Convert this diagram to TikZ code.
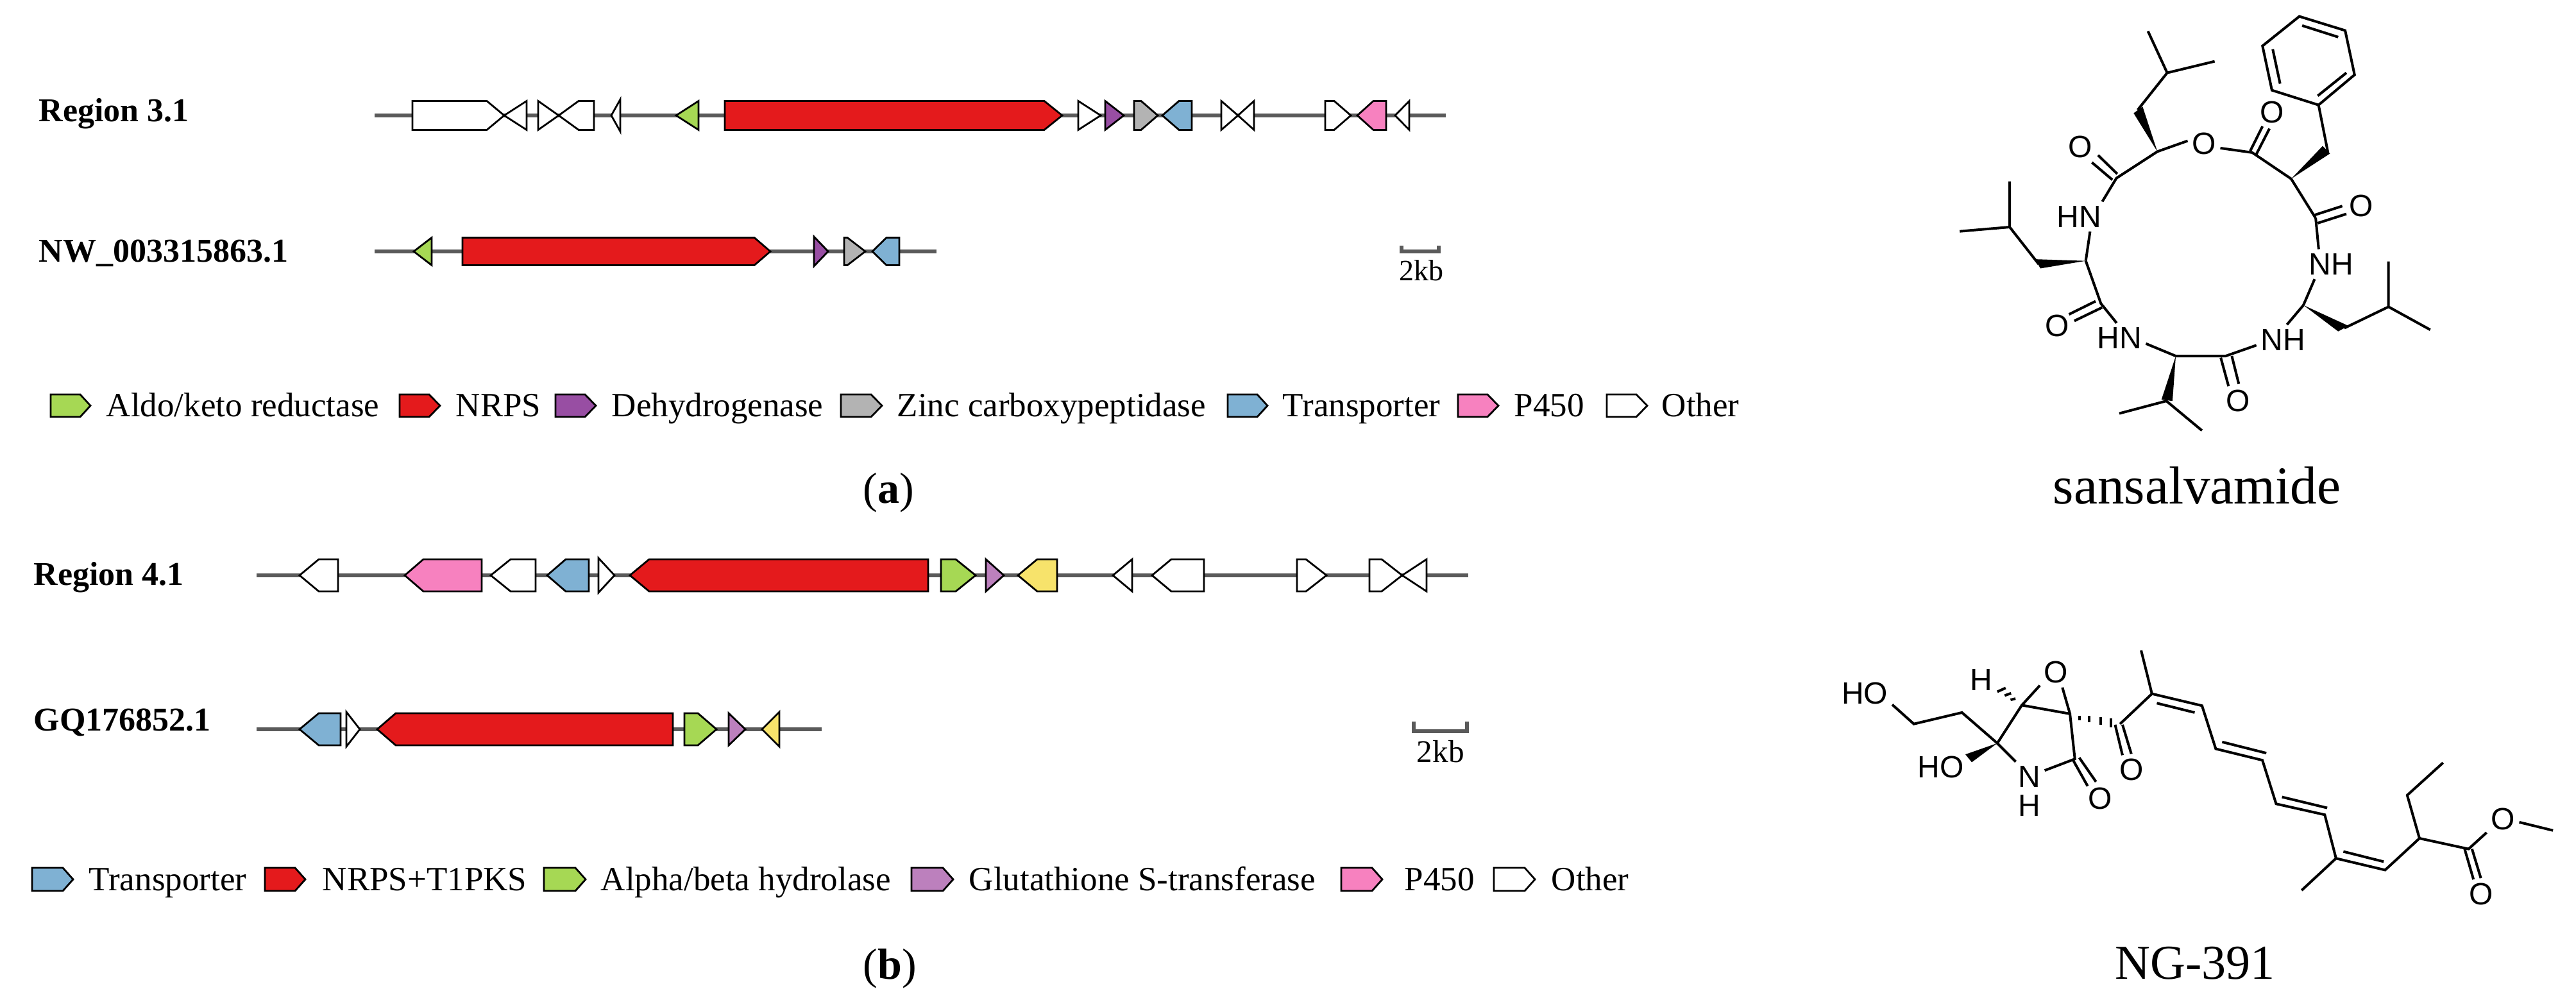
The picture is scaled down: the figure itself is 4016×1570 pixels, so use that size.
\documentclass[tikz,border=0pt]{standalone}
\usepackage{fontspec}
\setmainfont{Liberation Serif}
\newfontfamily\atomfont{Liberation Sans}
\definecolor{cgreen}{HTML}{A6D854}
\definecolor{cred}{HTML}{E41A1C}
\definecolor{cpurple}{HTML}{984EA3}
\definecolor{cgray}{HTML}{B3B3B3}
\definecolor{cblue}{HTML}{7FB1D3}
\definecolor{cpink}{HTML}{F781BF}
\definecolor{cyellow}{HTML}{F7E36B}
\definecolor{cmauve}{HTML}{BC80BD}
\definecolor{ctrack}{HTML}{5A5A5A}
\tikzset{
  genebox/.style={draw=black,line width=.7pt,line join=miter,fill=#1},
  track/.style={ctrack,line width=1.7pt},
  scalebar/.style={draw=ctrack,line width=1.5pt},
  rowlabel/.style={anchor=base west,inner sep=0,font=\bfseries\fontsize{13}{15}\selectfont},
  legendtext/.style={anchor=base west,inner sep=0,font=\fontsize{13.25}{15}\selectfont},
  captiontext/.style={anchor=base west,inner sep=0,font=\fontsize{#1}{24}\selectfont},
  bond/.style={line width=1pt,line cap=butt,line join=miter},
  atom/.style={inner sep=1.5pt,font=\atomfont\fontsize{12}{14}\selectfont,text=black},
  wedgebond/.style={fill=black,draw=none},
}
% \gene{colour}{base x}{shoulder x}{tip x}{centre y}{half height}
\newcommand{\gene}[6]{\draw[genebox=#1] (#2,#5-#6) -- (#3,#5-#6) -- (#4,#5) -- (#3,#5+#6) -- (#2,#5+#6) -- cycle;}
\begin{document}
\begin{tikzpicture}[x=0.25pt,y=-0.25pt]
\useasboundingbox (0,0) rectangle (4016,1570);
\fill[white] (0,0) rectangle (4016,1570);

% ---- row labels
\node[rowlabel] (r1) at (60,190) {Region 3.1};
\node[rowlabel] (r2) at (60,409) {NW\_003315863.1};
\node[rowlabel] (r3) at (52,913) {Region 4.1};
\node[rowlabel] (r4) at (52,1140) {GQ176852.1};

% ---- Region 3.1 track
\coordinate (t1a) at (584,180); \coordinate (t1b) at (2254,180);
\draw[track] (t1a) -- (t1b);
\def\hh{22.5}\def\yy{180}
\gene{white}{643}{759}{786}{\yy}{\hh}
\gene{white}{821}{821}{786}{\yy}{\hh}
\gene{white}{839}{839}{871}{\yy}{\hh}
\gene{white}{926}{902}{871}{\yy}{\hh}
\gene{white}{967}{967}{953}{\yy}{25}
\gene{cgreen}{1089}{1089}{1054}{\yy}{\hh}
\gene{cred}{1130}{1628}{1656}{\yy}{\hh}
\gene{white}{1681}{1681}{1716}{\yy}{\hh}
\gene{cpurple}{1723}{1723}{1752}{\yy}{\hh}
\gene{cgray}{1768}{1779}{1805}{\yy}{\hh}
\gene{cblue}{1858}{1838}{1812}{\yy}{\hh}
\gene{white}{1904}{1904}{1930}{\yy}{\hh}
\gene{white}{1955}{1955}{1930}{\yy}{\hh}
\gene{white}{2066}{2080}{2106}{\yy}{\hh}
\gene{cpink}{2161}{2141}{2116}{\yy}{\hh}
\gene{white}{2197}{2197}{2175}{\yy}{\hh}

% ---- NW track
\coordinate (t2a) at (584,392); \coordinate (t2b) at (1460,392);
\draw[track] (t2a) -- (t2b);
\def\hh{21.5}\def\yy{392}
\gene{cgreen}{673}{673}{645}{\yy}{\hh}
\gene{cred}{721}{1176}{1201}{\yy}{\hh}
\gene{cpurple}{1269}{1269}{1291}{\yy}{23}
\gene{cgray}{1316}{1321}{1349}{\yy}{\hh}
\gene{cblue}{1402}{1382}{1360}{\yy}{\hh}

% ---- Region 4.1 track
\coordinate (t3a) at (400,897); \coordinate (t3b) at (2289,897);
\draw[track] (t3a) -- (t3b);
\def\hh{25}\def\yy{897}
\gene{white}{527}{497}{467}{\yy}{\hh}
\gene{cpink}{751}{660}{631}{\yy}{\hh}
\gene{white}{835}{796}{765}{\yy}{\hh}
\gene{cblue}{918}{882}{853}{\yy}{\hh}
\gene{white}{933}{933}{958}{\yy}{27}
\gene{cred}{1447}{1012}{982}{\yy}{\hh}
\gene{cgreen}{1467}{1490}{1521}{\yy}{\hh}
\gene{cmauve}{1537}{1537}{1565}{\yy}{\hh}
\gene{cyellow}{1648}{1617}{1587}{\yy}{\hh}
\gene{white}{1765}{1765}{1735}{\yy}{\hh}
\gene{white}{1877}{1826}{1796}{\yy}{\hh}
\gene{white}{2022}{2036}{2068}{\yy}{\hh}
\gene{white}{2135}{2154}{2186}{\yy}{\hh}
\gene{white}{2224}{2224}{2186}{\yy}{\hh}

% ---- GQ track
\coordinate (t4a) at (400,1137); \coordinate (t4b) at (1281,1137);
\draw[track] (t4a) -- (t4b);
\def\hh{25}\def\yy{1137}
\gene{cblue}{531}{497}{467}{\yy}{\hh}
\gene{white}{540}{540}{561}{\yy}{27}
\gene{cred}{1049}{617}{588}{\yy}{\hh}
\gene{cgreen}{1067}{1088}{1117}{\yy}{\hh}
\gene{cmauve}{1136}{1136}{1162}{\yy}{\hh}
\gene{cyellow}{1215}{1215}{1188}{\yy}{27}

% ---- scale bars
\coordinate (s1a) at (2185,383); \coordinate (s1b) at (2185,392); \coordinate (s1c) at (2243,392); \coordinate (s1d) at (2243,383);
\draw[scalebar] (s1a) -- (s1b) -- (s1c) -- (s1d);
\node[captiontext=11.5] (k1) at (2181,438) {2kb};
\coordinate (s2a) at (2204,1125); \coordinate (s2b) at (2204,1140); \coordinate (s2c) at (2287,1140); \coordinate (s2d) at (2287,1125);
\draw[scalebar] (s2a) -- (s2b) -- (s2c) -- (s2d);
\node[captiontext=12.3] (k2) at (2208,1189) {2kb};

% ---- legend (a)
\def\hh{17.5}\def\yy{632.5}
\gene{cgreen}{79}{125}{141}{\yy}{\hh}
\gene{cred}{623}{669}{686}{\yy}{\hh}
\gene{cpurple}{866}{912}{929}{\yy}{\hh}
\gene{cgray}{1311}{1358}{1375}{\yy}{\hh}
\gene{cblue}{1914}{1960}{1976}{\yy}{\hh}
\gene{cpink}{2273}{2319}{2336}{\yy}{\hh}
\gene{white}{2505}{2551}{2568}{\yy}{\hh}
\node[legendtext] (la1) at (165,650) {Aldo/keto reductase};
\node[legendtext] (la2) at (710,650) {NRPS};
\node[legendtext] (la3) at (953,650) {Dehydrogenase};
\node[legendtext] (la4) at (1398,650) {Zinc carboxypeptidase};
\node[legendtext] (la5) at (1999,650) {Transporter};
\node[legendtext] (la6) at (2360,650) {P450};
\node[legendtext] (la7) at (2590,650) {Other};

% ---- legend (b)
\def\hh{18}\def\yy{1371}
\gene{cblue}{50}{98}{114}{\yy}{\hh}
\gene{cred}{413}{460}{476}{\yy}{\hh}
\gene{cgreen}{848}{897}{913}{\yy}{\hh}
\gene{cmauve}{1421}{1470}{1486}{\yy}{\hh}
\gene{cpink}{2091}{2139}{2155}{\yy}{\hh}
\gene{white}{2329}{2377}{2393}{\yy}{\hh}
\node[legendtext] (lb1) at (138,1389) {Transporter};
\node[legendtext] (lb2) at (502,1389) {NRPS+T1PKS};
\node[legendtext] (lb3) at (936,1389) {Alpha/beta hydrolase};
\node[legendtext] (lb4) at (1510,1389) {Glutathione S-transferase};
\node[legendtext] (lb5) at (2189,1389) {P450};
\node[legendtext] (lb6) at (2418,1389) {Other};

% ---- captions
\node[captiontext=17] (capa) at (1345,785) {(\textbf{a})};
\node[captiontext=17] (capb) at (1345,1526) {(\textbf{b})};
\node[captiontext=20.8] (namea) at (3200,786) {sansalvamide};
\node[captiontext=19] (nameb) at (3297,1526) {NG-391};

% ---- sansalvamide (coordinates in a local frame)
\begin{scope}[shift={(737.5pt,0pt)},x=0.15945pt,y=-0.1279pt]
\node[atom] (oe) at (762,438) {O};
\node[atom] (o1) at (928,343) {O};
\node[atom] (o2) at (1147,628) {O};
\node[atom] (o3) at (845,1222) {O};
\node[atom] (o4) at (403,992) {O};
\node[atom] (o5) at (460,447) {O};
\node[atom] (n1) at (457,660) {HN};
\node[atom] (n2) at (555,1030) {HN};
\node[atom] (n3) at (955,1035) {NH};
\node[atom] (n4) at (1073,805) {NH};
\coordinate (p1) at (995,50); \coordinate (p2) at (1107,93); \coordinate (p3) at (1130,228);
\coordinate (p4) at (1042,320); \coordinate (p5) at (928,275); \coordinate (p6) at (905,140);
\draw[bond] (p1) -- (p2) -- (p3) -- (p4) -- (p5) -- (p6) -- cycle;
\draw[bond] (1002,78) -- (1090,113) (930,150) -- (948,255) (1040,292) -- (1110,222);
\coordinate (cb) at (1065,465); \coordinate (ca) at (975,545); \coordinate (ce) at (880,465);
\coordinate (cc) at (1035,665);
\coordinate (d1) at (1005,930); \coordinate (d2) at (1105,1000); \coordinate (d3) at (1213,935);
\coordinate (d4) at (1213,797); \coordinate (d5) at (1315,1005);
\coordinate (e1) at (815,1085); \coordinate (e2) at (693,1085); \coordinate (e3) at (670,1222);
\coordinate (e4) at (555,1260); \coordinate (e5) at (757,1312);
\coordinate (f1) at (510,925); \coordinate (f2) at (473,795); \coordinate (f3) at (358,805);
\coordinate (f4) at (287,692); \coordinate (f5) at (287,553); \coordinate (f6) at (165,705);
\coordinate (g1) at (548,543); \coordinate (g2) at (648,462); \coordinate (g3) at (600,335);
\coordinate (g4) at (672,222); \coordinate (g5) at (625,95); \coordinate (g6) at (788,187);
\draw[bond] (p4) -- (cb);
\fill[wedgebond] (ca) -- (1052,445) -- (1070,468) -- cycle;
\draw[bond] (oe.-15) -- (ce) -- (ca) -- (cc);
\draw[bond] (875,460) -- (905,385) (890,470) -- (922,392);
\draw[bond] (1033,655) -- (1100,628) (1040,680) -- (1110,652);
\draw[bond] (cc) -- (n4.130);
\draw[bond] (n4.-138) -- (d1);
\fill[wedgebond] (d1) -- (1090,1010) -- (1115,993) -- cycle;
\draw[bond] (d2) -- (d3) -- (d4) (d3) -- (d5);
\draw[bond] (d1) -- (n3.75);
\draw[bond] (n3.192) -- (e1) -- (e2);
\draw[bond] (803,1090) -- (822,1177) (830,1085) -- (847,1170);
\fill[wedgebond] (e2) -- (658,1218) -- (685,1222) -- cycle;
\draw[bond] (e4) -- (e3) -- (e5);
\draw[bond] (e2) -- (n2.-12);
\draw[bond] (n2.100) -- (f1) -- (f2);
\draw[bond] (497,918) -- (432,958) (513,937) -- (445,978);
\fill[wedgebond] (f2) -- (350,790) -- (362,818) -- cycle;
\draw[bond] (f3) -- (f4) -- (f5) (f4) -- (f6);
\draw[bond] (f2) -- (n1.-54);
\draw[bond] (n1.33) -- (g1) -- (g2);
\draw[bond] (550,530) -- (503,473) (538,548) -- (488,495);
\fill[wedgebond] (g2) -- (590,345) -- (612,325) -- cycle;
\draw[bond] (g3) -- (g4) -- (g5) (g4) -- (g6);
\draw[bond] (g2) -- (oe.170);
\end{scope}

% ---- NG-391 (coordinates in a local frame)
\begin{scope}[shift={(700pt,-237.5pt)},x=0.19133pt,y=-0.09885pt]
\node[atom] (ho1) at (140,332) {HO};
\node[atom] (ho2) at (295,622) {HO};
\node[atom] (ho3) at (378,278) {H};
\node[atom] (ox) at (530,248) {O};
\node[atom] (nn) at (475,660) {N};
\node[atom] (nh) at (475,775) {H};
\node[atom] (ol) at (620,745) {O};
\node[atom] (ok) at (683,632) {O};
\node[atom] (om) at (1440,828) {O};
\node[atom] (oc) at (1395,1122) {O};
\coordinate (h1) at (240,452); \coordinate (h2) at (338,407); \coordinate (h3) at (410,528);
\coordinate (h4) at (460,378); \coordinate (h5) at (558,412); \coordinate (h6) at (568,590);
\coordinate (k0) at (660,452); \coordinate (k3) at (725,333); \coordinate (k4) at (703,162);
\coordinate (k5) at (827,380); \coordinate (k6) at (855,550); \coordinate (k7) at (950,595);
\coordinate (k8) at (978,767); \coordinate (k9) at (1077,810); \coordinate (k10) at (1100,982);
\coordinate (k11) at (1200,1028); \coordinate (k12) at (1030,1108); \coordinate (k13) at (1270,903);
\coordinate (k14) at (1245,733); \coordinate (k15) at (1318,605); \coordinate (k16) at (1370,945);
\coordinate (k17) at (1542,872);
\draw[bond] (ho1.-22) -- (h1) -- (h2) -- (h3) -- (h4) -- (h5) -- (h6) -- (nn.22);
\draw[bond] (h3) -- (nn.132);
\fill[wedgebond] (h3) -- (345,572) -- (358,603) -- cycle;
\draw[bond] (h4) -- (ox.219);
\draw[bond] (ox.-68) -- (h5);
\draw[bond] (563,590) -- (594,697) (577,585) -- (611,680);
\draw[bond] (437,357) -- (447,352) (425,340) -- (438,331) (410,325) -- (427,310);
\draw[bond] (577,420) -- (577,438) (597,420) -- (597,445) (620,425) -- (620,455) (642,430) -- (642,465);
\draw[bond] (650,455) -- (665,575) (665,455) -- (683,570);
\draw[bond] (k0) -- (k3) -- (k4);
\draw[bond] (k3) -- (k5) -- (k6) -- (k7) -- (k8) -- (k9) -- (k10) -- (k11) -- (k13) -- (k14) -- (k15);
\draw[bond] (735,370) -- (812,407) (868,523) -- (958,567) (990,740) -- (1082,783) (1115,955) -- (1197,995);
\draw[bond] (k10) -- (k12);
\draw[bond] (k13) -- (k16) -- (om.219);
\draw[bond] (om.-10) -- (k17);
\draw[bond] (1362,945) -- (1380,1065) (1377,945) -- (1395,1060);
\end{scope}
\end{tikzpicture}
\end{document}
